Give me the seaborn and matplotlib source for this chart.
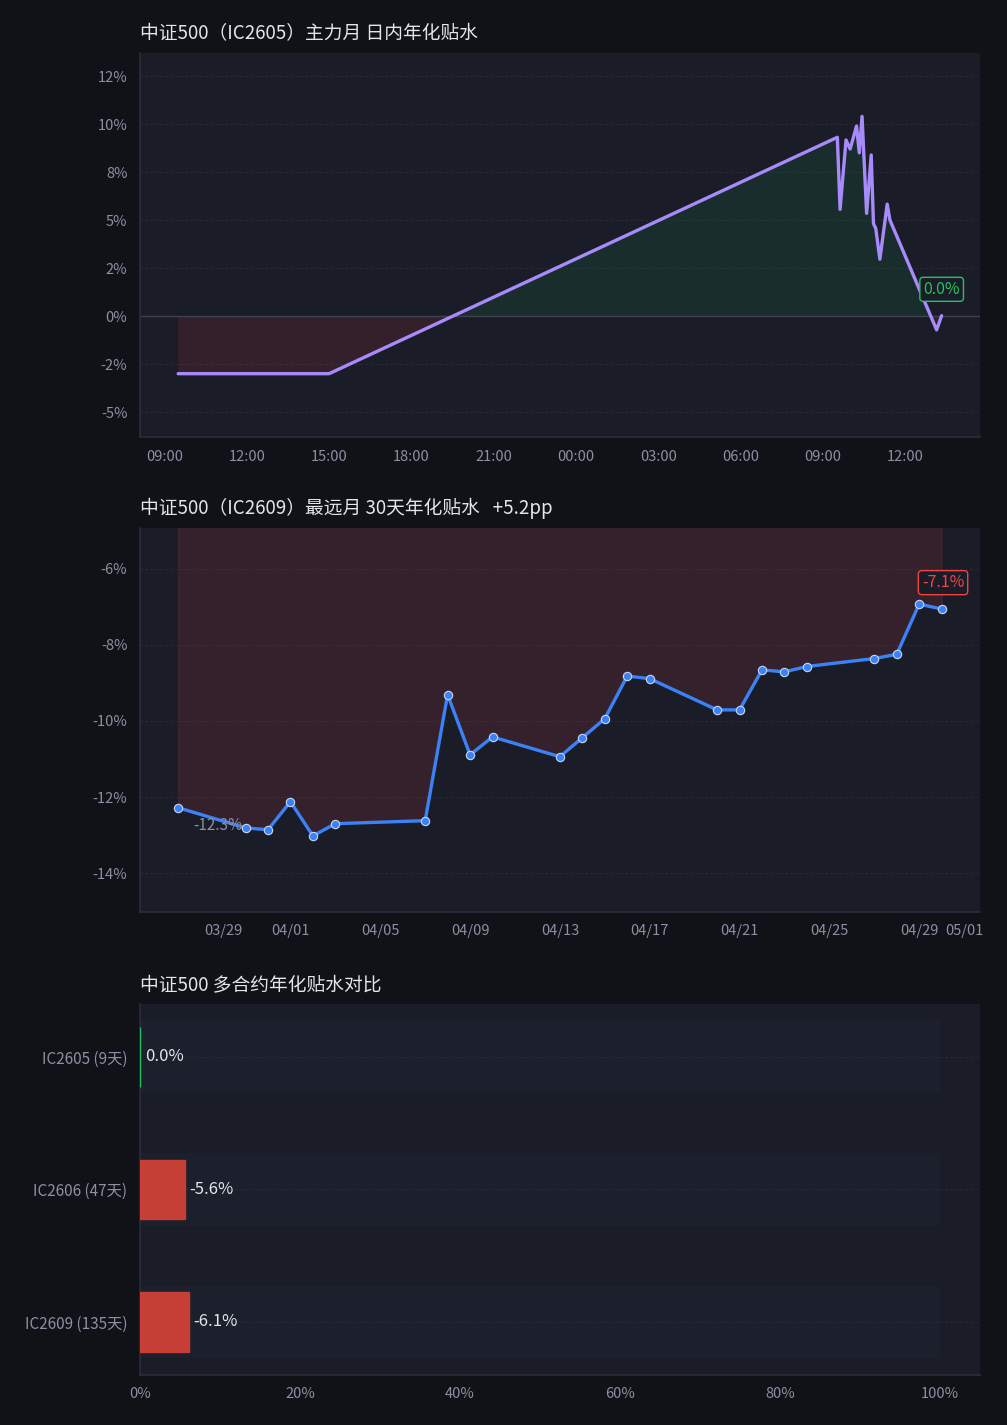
import numpy as np
import pandas as pd
import matplotlib
matplotlib.use("Agg")
import matplotlib.pyplot as plt
import matplotlib.dates as mdates
from matplotlib.ticker import MultipleLocator, FuncFormatter
import seaborn as sns

# --- DATA ---
# panel 1: IC2605 intraday annualized basis (%)
intraday_times = [
    "2026-04-29 09:30", "2026-04-29 10:30", "2026-04-29 11:30", "2026-04-29 13:00",
    "2026-04-29 14:00", "2026-04-29 15:00",
    "2026-04-30 09:31", "2026-04-30 09:37", "2026-04-30 09:50", "2026-04-30 09:59",
    "2026-04-30 10:13", "2026-04-30 10:19", "2026-04-30 10:25", "2026-04-30 10:35",
    "2026-04-30 10:45", "2026-04-30 10:50", "2026-04-30 10:55", "2026-04-30 11:04",
    "2026-04-30 11:20", "2026-04-30 11:26", "2026-04-30 13:08", "2026-04-30 13:19",
]
intraday_basis = [
    -3.0, -3.0, -3.0, -3.0,
    -3.0, -3.0,
    9.31, 5.56, 9.17, 8.70,
    9.90, 8.50, 10.40, 5.35,
    8.39, 4.82, 4.56, 2.96,
    5.83, 5.00, -0.72, 0.02,
]

# panel 2: IC2609 30-day annualized basis (%)
far_dates = [
    "2026-03-27", "2026-03-30", "2026-03-31", "2026-04-01", "2026-04-02", "2026-04-03",
    "2026-04-07", "2026-04-08", "2026-04-09", "2026-04-10", "2026-04-13", "2026-04-14",
    "2026-04-15", "2026-04-16", "2026-04-17", "2026-04-20", "2026-04-21", "2026-04-22",
    "2026-04-23", "2026-04-24", "2026-04-27", "2026-04-28", "2026-04-29", "2026-04-30",
]
far_basis = [
    -12.28, -12.81, -12.86, -12.12, -13.02, -12.70,
    -12.62, -9.31, -10.89, -10.42, -10.94, -10.44,
    -9.94, -8.82, -8.89, -9.71, -9.71, -8.66,
    -8.71, -8.57, -8.36, -8.25, -6.93, -7.06,
]

# panel 3: contract comparison
contracts = ["IC2605 (9天)", "IC2606 (47天)", "IC2609 (135天)"]
contract_basis = [0.0, -5.6, -6.1]

# --- STYLE ---
FIG_BG = "#101217"
AX_BG = "#1a1c28"
GRID = "#2a2d3a"
TICK = "#8b90a2"
TITLE = "#e3e5ea"
PURPLE = "#a78bfa"
BLUE = "#3b82f6"
GREEN = "#22c55e"
RED = "#ef4444"
BAR_RED = "#c53f36"
FONTS = ["Noto Sans CJK SC", "DejaVu Sans"]

sns.set_theme(style="dark")
plt.rcParams["font.family"] = FONTS
plt.rcParams["axes.unicode_minus"] = False

fig = plt.figure(figsize=(10.07, 14.25), dpi=100, facecolor=FIG_BG)
ax1 = fig.add_axes([0.139, 0.6933, 0.834, 0.2695])
ax2 = fig.add_axes([0.139, 0.3600, 0.834, 0.2695])
ax3 = fig.add_axes([0.139, 0.0351, 0.834, 0.2604])


def style_axes(ax):
    ax.set_facecolor(AX_BG)
    for side in ["top", "right"]:
        ax.spines[side].set_visible(False)
    for side in ["left", "bottom"]:
        ax.spines[side].set_visible(True)
        ax.spines[side].set_color(GRID)
        ax.spines[side].set_linewidth(1.2)
    ax.tick_params(colors=TICK, labelsize=10.5, length=0)
    ax.tick_params(axis="y", pad=9)
    ax.tick_params(axis="x", pad=9)
    ax.grid(axis="y", color=GRID, linestyle=(0, (3, 3)), linewidth=0.6)
    ax.grid(axis="x", visible=False)
    ax.set_xlabel("")
    ax.set_ylabel("")


def add_title(ax, text):
    ax.set_title(text, loc="left", color=TITLE, fontsize=13.5, pad=10, x=0.0)


pct = FuncFormatter(lambda v, p: f"{v:.0f}%")

# --- 1. intraday ---
df1 = pd.DataFrame({"t": pd.to_datetime(intraday_times), "v": intraday_basis})
x1 = mdates.date2num(df1["t"])
y1 = df1["v"].to_numpy()
ax1.fill_between(x1, y1, 0, where=y1 >= 0, interpolate=True, color=GREEN, alpha=0.10, lw=0)
ax1.fill_between(x1, y1, 0, where=y1 < 0, interpolate=True, color=RED, alpha=0.12, lw=0)
ax1.axhline(0, color="#3d4150", lw=1, zorder=1)
sns.lineplot(data=df1, x="t", y="v", ax=ax1, color=PURPLE, lw=2.4, sort=False, estimator=None)
style_axes(ax1)
ax1.set_ylim(min(intraday_basis) - 3.3, max(intraday_basis) + 3.3)
ax1.yaxis.set_major_locator(MultipleLocator(2.5))
ax1.yaxis.set_major_formatter(pct)
ax1.xaxis.set_major_locator(mdates.HourLocator(byhour=range(0, 24, 3)))
ax1.xaxis.set_major_formatter(mdates.DateFormatter("%H:%M"))
ax1.margins(x=0.05)
last1 = intraday_basis[-1]
ax1.annotate(f"{last1:.1f}%", (x1[-1], last1), xytext=(0, 19), textcoords="offset points",
             ha="center", va="center", color=GREEN, fontsize=11.5,
             bbox=dict(boxstyle="round,pad=0.22", fc=AX_BG, ec=GREEN, lw=1))
add_title(ax1, "中证500（IC2605）主力月 日内年化贴水")

# --- 2. far month ---
df2 = pd.DataFrame({"d": pd.to_datetime(far_dates), "v": far_basis})
x2 = mdates.date2num(df2["d"])
y2 = df2["v"].to_numpy()
ax2.fill_between(x2, y2, 0, color=RED, alpha=0.13, lw=1)
sns.lineplot(data=df2, x="d", y="v", ax=ax2, color=BLUE, lw=2.4, marker="o", markersize=6,
             markeredgecolor="#c7d6f5", markeredgewidth=0.8, sort=False, estimator=None)
style_axes(ax2)
ax2.set_ylim(min(far_basis) - 2, max(far_basis) + 2)
ax2.yaxis.set_major_locator(MultipleLocator(2))
ax2.yaxis.set_major_formatter(pct)
ax2.xaxis.set_major_locator(mdates.DayLocator(bymonthday=[1, 5, 9, 13, 17, 21, 25, 29]))
ax2.xaxis.set_major_formatter(mdates.DateFormatter("%m/%d"))
ax2.margins(x=0.05)
ax2.annotate(f"{far_basis[0]:.1f}%", (x2[0], far_basis[0]), xytext=(11, -13),
             textcoords="offset points", ha="left", va="center", color=TICK, fontsize=11)
ax2.annotate(f"{far_basis[-1]:.1f}%", (x2[-1], far_basis[-1]), xytext=(1, 19),
             textcoords="offset points", ha="center", va="center", color=RED, fontsize=11.5,
             bbox=dict(boxstyle="round,pad=0.22", fc=AX_BG, ec=RED, lw=1))
spread = far_basis[-1] - far_basis[0]
add_title(ax2, f"中证500（IC2609）最远月 30天年化贴水   {spread:+.1f}pp")

# --- 3. contract comparison ---
df3 = pd.DataFrame({"c": contracts, "v": contract_basis})
df3["a"] = df3["v"].abs()
colors = [GREEN if v >= 0 else BAR_RED for v in contract_basis]
sns.barplot(data=df3, x="a", y="c", hue="c", palette=colors, legend=False, orient="h",
            width=0.45, ax=ax3, saturation=1)
for patch, c in zip(ax3.patches, colors):
    patch.set_edgecolor(c)
    patch.set_linewidth(1)
    patch.set_zorder(3)
# faint full-scale track behind each bar
ax3.barh(range(len(contracts)), 100, height=0.55, color="#1c1f2c", zorder=0.5, lw=0)
for i, v in enumerate(contract_basis):
    ax3.text(abs(v) + 0.6, i, f"{v:.1f}%", va="center", ha="left", color=TITLE,
             fontsize=12, zorder=4)
style_axes(ax3)
ax3.tick_params(axis="y", labelsize=11)
ax3.set_xlim(0, 105)
ax3.set_ylim(len(contracts) - 0.6, -0.4)
ax3.xaxis.set_major_locator(MultipleLocator(20))
ax3.xaxis.set_major_formatter(pct)
add_title(ax3, "中证500 多合约年化贴水对比")

fig.savefig("out.png", dpi=100, facecolor=FIG_BG)
